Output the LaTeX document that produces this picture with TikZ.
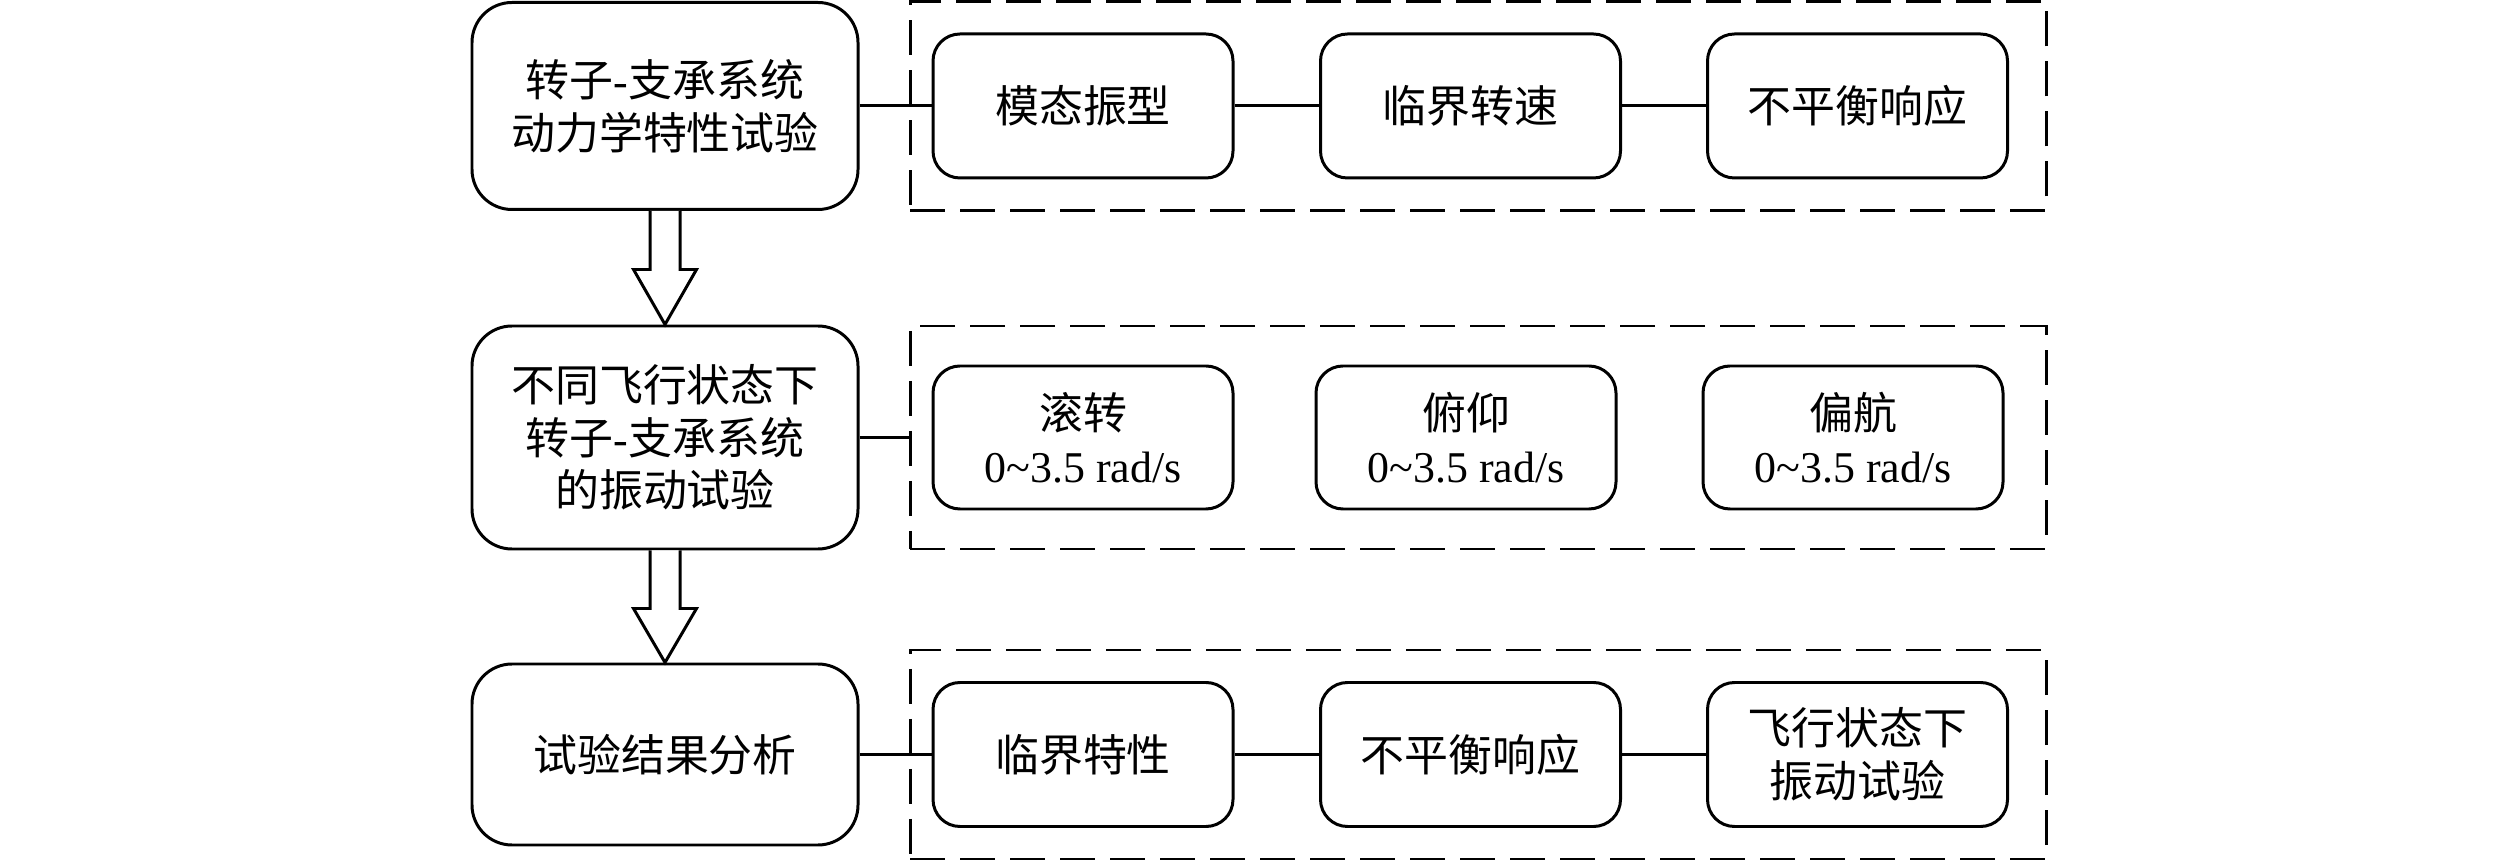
\documentclass[tikz,border=0pt]{standalone}
\usepackage{fontspec}
\setmainfont{Liberation Serif}
\newfontfamily\cjk{Noto Sans CJK SC}
\usetikzlibrary{calc}
\begin{document}
\begin{tikzpicture}[x=1cm,y=1cm,
  txt/.style={font=\fontsize{12.5}{15}\selectfont\cjk},
  bigbox/.style={draw, line width=0.85pt, rounded corners=0.4cm, minimum width=3.86cm, align=center, inner sep=0pt, txt},
  smallbox/.style={draw, line width=0.85pt, rounded corners=0.27cm, minimum width=3.0cm, minimum height=1.44cm, align=center, inner sep=0pt, txt},
  groupbox/.style={draw, line width=0.85pt, dash pattern=on 0.35cm off 0.15cm, minimum width=11.36cm, inner sep=0pt},
  link/.style={line width=0.85pt},
  hollow/.style={draw, line width=0.85pt, fill=white, line join=miter}]
\useasboundingbox (0,0) rectangle (25.2,-8.61);

% dashed group frames
\node[groupbox, minimum height=2.09cm] (d1) at (14.78,-1.06) {};
\node[groupbox, minimum height=2.23cm] (d2) at (14.78,-4.375) {};
\node[groupbox, minimum height=2.09cm] (d3) at (14.78,-7.545) {};

% left column
\node[bigbox, minimum height=2.07cm] (b1) at (6.65,-1.06) {转子{\rmfamily -}支承系统\\动力学特性试验};
\node[bigbox, minimum height=2.23cm] (b2) at (6.65,-4.375) {不同飞行状态下\\转子{\rmfamily -}支承系统\\的振动试验};
\node[bigbox, minimum height=1.81cm] (b3) at (6.65,-7.545) {试验结果分析};

% row 1
\node[smallbox] (m1) at (10.83,-1.06) {模态振型};
\node[smallbox] (m2) at (14.705,-1.06) {临界转速};
\node[smallbox] (m3) at (18.575,-1.06) {不平衡响应};

% row 2
\node[smallbox, minimum height=1.43cm] (f1) at (10.83,-4.375) {滚转\\{\rmfamily 0\textasciitilde3.5 rad/s}};
\node[smallbox, minimum height=1.43cm] (f2) at (14.66,-4.375) {俯仰\\{\rmfamily 0\textasciitilde3.5 rad/s}};
\node[smallbox, minimum height=1.43cm] (f3) at (18.53,-4.375) {偏航\\{\rmfamily 0\textasciitilde3.5 rad/s}};

% row 3
\node[smallbox] (r1) at (10.83,-7.545) {临界特性};
\node[smallbox] (r2) at (14.705,-7.545) {不平衡响应};
\node[smallbox] (r3) at (18.575,-7.545) {飞行状态下\\振动试验};

% connectors
\draw[link] (b1.east) -- (m1.west);
\draw[link] (m1.east) -- (m2.west);
\draw[link] (m2.east) -- (m3.west);
\draw[link] (b2.east) -- (b2.east -| d2.west);
\draw[link] (b3.east) -- (r1.west);
\draw[link] (r1.east) -- (r2.west);
\draw[link] (r2.east) -- (r3.west);

% hollow block arrows
\draw[hollow] ($(b1.south)+(-0.15,0)$) -- ($(b2.north)+(-0.15,0.55)$) -- ($(b2.north)+(-0.315,0.55)$) -- (b2.north) -- ($(b2.north)+(0.315,0.55)$) -- ($(b2.north)+(0.15,0.55)$) -- ($(b1.south)+(0.15,0)$);
\draw[hollow] ($(b2.south)+(-0.15,0)$) -- ($(b3.north)+(-0.15,0.54)$) -- ($(b3.north)+(-0.315,0.54)$) -- (b3.north) -- ($(b3.north)+(0.315,0.54)$) -- ($(b3.north)+(0.15,0.54)$) -- ($(b2.south)+(0.15,0)$);
\end{tikzpicture}
\end{document}
